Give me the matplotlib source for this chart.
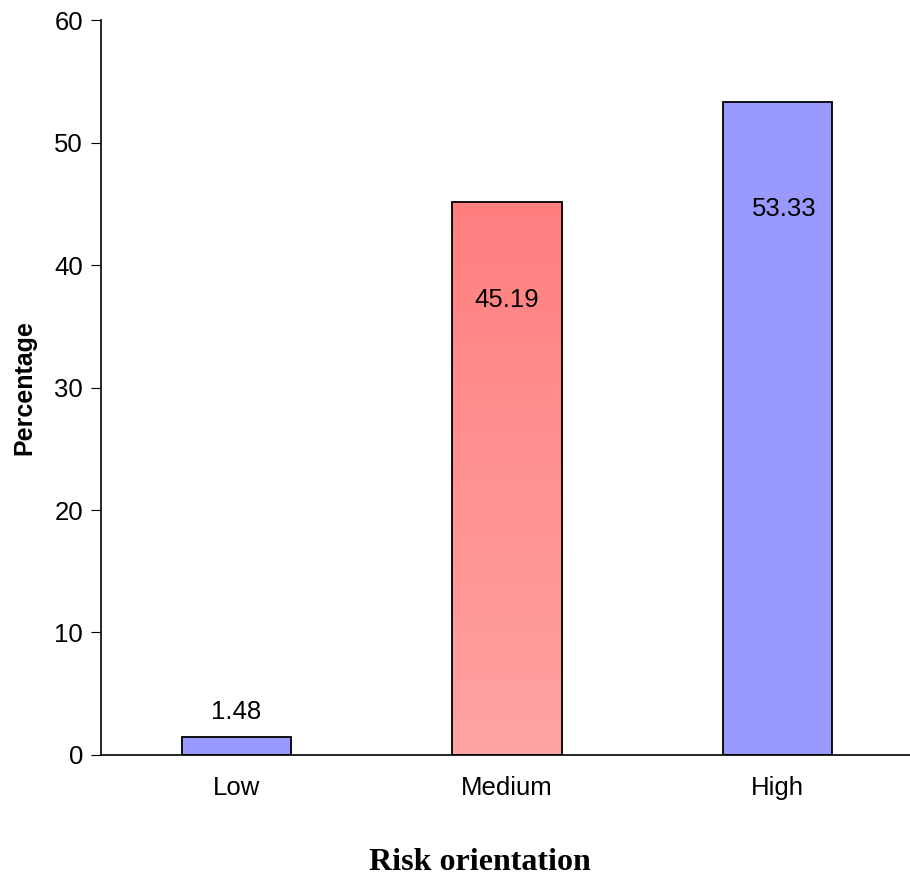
import numpy as np
import matplotlib
matplotlib.use("Agg")
import matplotlib.pyplot as plt
from matplotlib.colors import LinearSegmentedColormap

categories = ["Low", "Medium", "High"]
values = [1.48, 45.19, 53.33]
yticks = [0, 10, 20, 30, 40, 50, 60]

plt.rcParams['font.family'] = ['Liberation Sans', 'DejaVu Sans']

fig = plt.figure(figsize=(9.1, 8.86), dpi=100)
ax = fig.add_axes([0.111, 0.148, 0.892, 0.829])

x = np.arange(len(categories))
w = 0.405
bars = ax.bar(x, values, width=w, color="#9999FF", edgecolor="black", linewidth=1.3, zorder=2)

# gradient fill for the middle bar
mid = bars[1]
mid.set_facecolor("none")
grad = LinearSegmentedColormap.from_list("redgrad", ["#FFA3A3", "#FF7F7F"])
img = ax.imshow(np.linspace(0, 1, 256).reshape(-1, 1), cmap=grad, origin="lower",
                extent=[x[1] - w / 2, x[1] + w / 2, 0, values[1]], aspect="auto", zorder=1)
img.set_clip_path(mid)

ax.set_xlim(-0.5, 2.5)
ax.set_ylim(0, 60)
ax.set_yticks(yticks)
ax.set_xticks(x)
ax.set_xticklabels(categories, fontsize=18.5)
ax.tick_params(axis="y", labelsize=18.5, length=7, direction="out", pad=6)
ax.tick_params(axis="x", length=0, pad=15)
for s in ["top", "right"]:
    ax.spines[s].set_visible(False)
ax.spines["left"].set_linewidth(1.2)
ax.spines["bottom"].set_linewidth(1.2)

# value labels
ax.text(x[0], values[0] + 2.0, f"{values[0]:.2f}", ha="center", va="center", fontsize=18.5)
ax.text(x[1], values[1] - 8.0, f"{values[1]:.2f}", ha="center", va="center", fontsize=18.5)
ax.text(x[2] + 0.026, values[2] - 8.7, f"{values[2]:.2f}", ha="center", va="center", fontsize=18.5)

ax.set_ylabel("Percentage", fontsize=18, fontweight="bold", labelpad=13)
fig.text(0.527, 0.026, "Risk orientation", ha="center", va="center",
         fontsize=23, fontweight="bold", family="Liberation Serif")

fig.savefig("out.png", dpi=100)
